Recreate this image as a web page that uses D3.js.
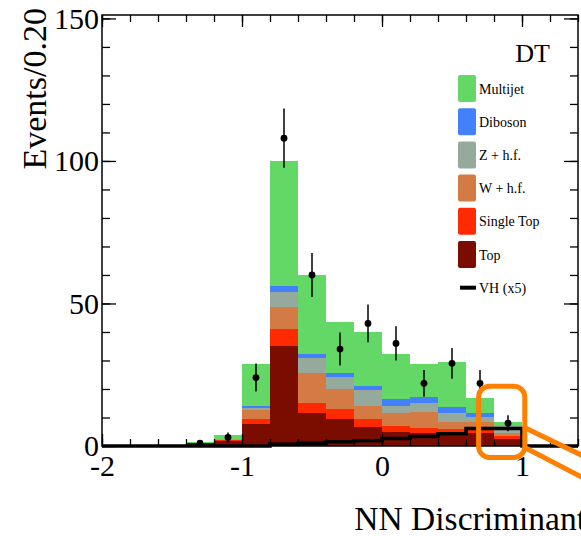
<!DOCTYPE html>
<html>
<head>
<meta charset="utf-8">
<script src="https://cdn.jsdelivr.net/npm/d3@7/dist/d3.min.js"></script>
<style>
  html, body { margin: 0; padding: 0; background: #ffffff; }
  svg { display: block; }
  text { font-family: "Liberation Serif", "Times New Roman", serif; fill: #000; }
</style>
</head>
<body>
<script>
// ---------------- data ----------------
const binCenters = [-1.9, -1.7, -1.5, -1.3, -1.1, -0.9, -0.7, -0.5, -0.3, -0.1, 0.1, 0.3, 0.5, 0.7, 0.9];
const binWidth = 0.2;

const top_     = [0, 0, 0, 0.9, 1.6, 7.7, 35.1, 11.5, 9.4, 6.6, 5.0, 4.7, 4.4, 4.5, 2.5];
const singleTop= [0, 0, 0, 0.2, 0.4, 1.7, 5.8, 3.5, 3.5, 2.8, 2.0, 1.7, 1.5, 2.1, 1.1];
const wHF      = [0, 0, 0, 0, 0.2, 3.2, 8.0, 10.7, 7.1, 4.6, 4.5, 5.6, 2.6, 1.9, 1.0];
const zHF      = [0, 0, 0, 0, 0.1, 0.8, 5.2, 5.1, 4.3, 5.6, 2.6, 3.0, 3.2, 1.8, 2.6];
const diboson  = [0, 0, 0, 0, 0, 0.6, 2.0, 1.5, 1.4, 1.6, 2.3, 2.3, 1.9, 1.4, 0.3];
const multijet = [0, 0, 0, 0.3, 1.6, 14.7, 43.9, 27.7, 17.9, 18.9, 15.8, 11.5, 15.8, 5.0, 1.0];

const dataCounts = [0, 0, 0, 1, 3, 24, 108, 60, 34, 43, 36, 22, 29, 22, 8];
const dataErrors = [0, 0, 0, 1.0, 1.7, 4.9, 10.4, 7.7, 5.8, 6.6, 6.0, 4.7, 5.4, 4.7, 2.8];

const vhX5 = [0, 0, 0, 0, 0, 0, 0.6, 1.0, 1.5, 1.8, 2.6, 3.3, 4.3, 6.1, 6.1];

const seriesNames = ["Top", "Single Top", "W + h.f.", "Z + h.f.", "Diboson", "Multijet"];
const seriesValues = [top_, singleTop, wHF, zHF, diboson, multijet];
const seriesColors = ["#7a0d00", "#ff2a00", "#d47b45", "#95aa9c", "#4381fa", "#64d866"];

const legendOrder = ["Multijet", "Diboson", "Z + h.f.", "W + h.f.", "Single Top", "Top"];
const vhLabel = "VH (x5)";

const xMajorTicks = [-2, -1, 0, 1];
const yMajorTicks = [0, 50, 100, 150];
const xTitle = "NN Discriminant";
const yTitle = "Events/0.20";
const channelLabel = "DT";

// ---------------- layout ----------------
const W = 581, H = 536;
const xDomain = [-2, 1.4];
const yDomain = [0, 151.2];

const svg = d3.select("body").append("svg").attr("width", W).attr("height", H);

const x = d3.scaleLinear().domain(xDomain).range([102, 578]);
const y = d3.scaleLinear().domain(yDomain).range([446, 15]);

// ---------------- stacked histogram ----------------
const table = binCenters.map((c, i) => {
  const row = { c };
  seriesNames.forEach((n, k) => row[n] = seriesValues[k][i]);
  return row;
});
const stack = d3.stack().keys(seriesNames)(table);

const gStack = svg.append("g");
stack.forEach((layer, k) => {
  gStack.append("g").attr("fill", seriesColors[k])
    .selectAll("rect").data(layer).join("rect")
    .attr("x", d => x(d.data.c - binWidth / 2))
    .attr("width", d => x(d.data.c + binWidth / 2) - x(d.data.c - binWidth / 2))
    .attr("y", d => y(d[1]))
    .attr("height", d => Math.max(0, y(d[0]) - y(d[1])))
    .attr("shape-rendering", "crispEdges");
});

// ---------------- VH x5 step line ----------------
const vhPts = binCenters.map((c, i) => [c - binWidth / 2, vhX5[i]]);
vhPts.push([binCenters[binCenters.length - 1] + binWidth / 2, 0]);
vhPts.push([xDomain[1], 0]);
svg.append("path")
  .attr("d", d3.line().x(d => x(d[0])).y(d => y(d[1])).curve(d3.curveStepAfter)(vhPts))
  .attr("fill", "none").attr("stroke", "#000").attr("stroke-width", 3.5);

// ---------------- axes ----------------
const xMinor = d3.range(0, 18).map(i => -2 + i * 0.2).filter(v => v <= xDomain[1] + 1e-9);
const yMinor = d3.range(0, 16).map(i => i * 10);

function styleAxis(g) {
  g.select(".domain").remove();
  g.selectAll("line").attr("stroke", "#000").attr("stroke-width", 1.3);
}

// bottom
svg.append("g").attr("transform", `translate(0,${y(0)})`)
  .call(d3.axisBottom(x).tickValues(xMinor).tickSize(-7).tickFormat(""))
  .call(styleAxis);
svg.append("g").attr("transform", `translate(0,${y(0)})`)
  .call(d3.axisBottom(x).tickValues(xMajorTicks).tickSize(-12).tickPadding(9).tickFormat(d3.format("d")))
  .call(styleAxis)
  .call(g => g.selectAll("text").style("font-size", "30px").text(d => (d < 0 ? "-" : "") + Math.abs(d)));
// top
svg.append("g").attr("transform", `translate(0,${y(yDomain[1])})`)
  .call(d3.axisTop(x).tickValues(xMinor).tickSize(-7).tickFormat(""))
  .call(styleAxis);
svg.append("g").attr("transform", `translate(0,${y(yDomain[1])})`)
  .call(d3.axisTop(x).tickValues(xMajorTicks).tickSize(-12).tickFormat(""))
  .call(styleAxis);
// left
svg.append("g").attr("transform", `translate(${x(xDomain[0])},0)`)
  .call(d3.axisLeft(y).tickValues(yMinor).tickSize(-8).tickFormat(""))
  .call(styleAxis);
svg.append("g").attr("transform", `translate(${x(xDomain[0])},0)`)
  .call(d3.axisLeft(y).tickValues(yMajorTicks).tickSize(-14).tickPadding(3).tickFormat(d3.format("d")))
  .call(styleAxis)
  .call(g => g.selectAll("text").style("font-size", "30px"));
// right
svg.append("g").attr("transform", `translate(${x(xDomain[1])},0)`)
  .call(d3.axisRight(y).tickValues(yMinor).tickSize(-8).tickFormat(""))
  .call(styleAxis);
svg.append("g").attr("transform", `translate(${x(xDomain[1])},0)`)
  .call(d3.axisRight(y).tickValues(yMajorTicks).tickSize(-14).tickFormat(""))
  .call(styleAxis);

// frame
svg.append("rect")
  .attr("x", x(xDomain[0])).attr("y", y(yDomain[1]))
  .attr("width", x(xDomain[1]) - x(xDomain[0])).attr("height", y(0) - y(yDomain[1]))
  .attr("fill", "none").attr("stroke", "#000").attr("stroke-width", 1.5);

// ---------------- data points ----------------
const pts = binCenters.map((c, i) => ({ c, v: dataCounts[i], e: dataErrors[i] })).filter(d => d.v > 0);
const gPts = svg.append("g");
gPts.selectAll("line").data(pts).join("line")
  .attr("x1", d => x(d.c)).attr("x2", d => x(d.c))
  .attr("y1", d => y(d.v - d.e)).attr("y2", d => y(d.v + d.e))
  .attr("stroke", "#000").attr("stroke-width", 1.5);
gPts.selectAll("circle").data(pts).join("circle")
  .attr("cx", d => x(d.c)).attr("cy", d => y(d.v)).attr("r", 3.4).attr("fill", "#000");

// ---------------- titles ----------------
svg.append("text").attr("x", 586).attr("y", 530).attr("text-anchor", "end")
  .style("font-size", "33.5px").text(xTitle);
svg.append("text").attr("transform", "translate(46,8) rotate(-90)").attr("text-anchor", "end")
  .style("font-size", "34px").text(yTitle);
svg.append("text").attr("x", 550).attr("y", 62).attr("text-anchor", "end")
  .style("font-size", "26px").text(channelLabel);

// ---------------- legend ----------------
const leg = svg.append("g").attr("transform", "translate(458,75)");
const legStep = 33.2;
legendOrder.forEach((name, i) => {
  const k = seriesNames.indexOf(name);
  const g = leg.append("g").attr("transform", `translate(0,${i * legStep})`);
  g.append("rect").attr("x", 0).attr("y", 0).attr("width", 18).attr("height", 27)
    .attr("rx", 2).attr("fill", seriesColors[k]);
  g.append("text").attr("x", 21).attr("y", 18.5).style("font-size", "14px").text(name);
});
{
  const g = leg.append("g").attr("transform", `translate(0,${legendOrder.length * legStep})`);
  g.append("line").attr("x1", 2).attr("x2", 18).attr("y1", 13.5).attr("y2", 13.5)
    .attr("stroke", "#000").attr("stroke-width", 4);
  g.append("text").attr("x", 21).attr("y", 18.5).style("font-size", "14px").text(vhLabel);
}

// ---------------- zoom call-out annotation ----------------
const box = { x0: 0.69, x1: 1.02, y0: -4, y1: 21 };
const orange = "#ff8000";
svg.append("line")
  .attr("x1", x(box.x1)).attr("y1", y(6.4)).attr("x2", x(1.45)).attr("y2", y(-3.8))
  .attr("stroke", orange).attr("stroke-width", 5);
svg.append("line")
  .attr("x1", x(box.x1)).attr("y1", y(-0.5)).attr("x2", x(1.45)).attr("y2", y(-11.5))
  .attr("stroke", orange).attr("stroke-width", 5);
svg.append("rect")
  .attr("x", x(box.x0)).attr("y", y(box.y1))
  .attr("width", x(box.x1) - x(box.x0)).attr("height", y(box.y0) - y(box.y1))
  .attr("rx", 11).attr("fill", "none").attr("stroke", orange).attr("stroke-width", 5);
</script>
</body>
</html>
